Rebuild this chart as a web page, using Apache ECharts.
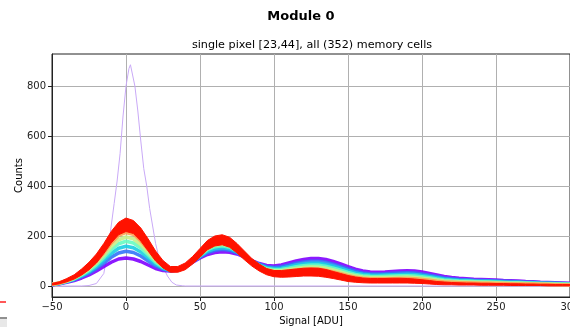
<!DOCTYPE html>
<html><head><meta charset="utf-8">
<script src="https://cdn.jsdelivr.net/npm/echarts@6/dist/echarts.min.js"></script>
<style>html,body{margin:0;padding:0;background:#fff}#c{width:570px;height:327px}</style>
</head><body><div id="c"></div>
<script>
// Signal bins [ADU]
const signalBins = [-50,-45,-40,-35,-30,-25,-20,-15,-10,-5,0,5,10,15,20,25,30,35,40,45,50,55,60,65,70,75,80,85,90,95,100,105,110,115,120,125,130,135,140,145,150,155,160,165,170,175,180,185,190,195,200,205,210,215,220,225,230,235,240,245,250,255,260,265,270,275,280,285,290,295,300];
// representative memory-cell groups (rainbow colormap order)
const cellsPurple = [5,9,15,22,32,44,60,78,95,108,112,108,98,84,70,62,60,64,76,95,112,126,134,137,135,128,116,102,90,82,80,84,92,100,106,110,110,106,98,88,77,67,60,56,55,56,58,60,61,60,56,50,44,38,34,31,29,27,26,25,24,22,21,20,18,17,15,14,13,12,11];
const cellsBlue = [5,10,17,25,37,51,70,92,115,132,139,134,120,100,80,67,61,64,76,97,116,133,143,147,143,133,117,101,87,77,74,77,84,91,96,99,99,95,87,78,68,59,52,49,48,49,51,52,53,52,48,43,38,32,29,26,25,23,22,21,20,19,18,17,15,15,13,12,11,10,9];
const cellsCyan = [6,10,18,27,40,57,78,103,130,151,159,153,136,112,88,71,62,65,77,98,119,139,150,154,149,136,118,100,84,73,70,71,77,84,88,91,91,86,79,70,61,52,47,44,43,44,45,46,47,46,42,38,33,28,25,23,22,20,19,19,18,16,15,15,13,13,11,11,10,9,8];
const cellsGreen = [6,11,19,29,44,62,85,114,145,169,179,172,152,124,95,75,63,65,77,99,122,145,157,161,155,140,119,99,82,70,65,66,71,77,81,83,83,78,71,63,54,46,41,39,38,39,40,41,41,40,37,33,28,24,22,20,19,18,17,16,15,14,13,13,12,11,10,9,8,8,7];
const cellsYellow = [6,12,20,31,47,67,92,123,158,185,196,189,166,134,102,78,64,65,77,100,125,149,163,167,160,142,120,98,80,66,61,61,66,70,74,76,75,71,64,56,47,41,36,34,34,34,35,35,36,34,31,28,24,20,18,17,16,15,14,14,13,12,11,11,10,9,8,8,7,6,6];
const cellsOrange = [7,12,21,33,50,72,99,133,172,202,214,207,181,146,109,81,65,66,78,101,127,154,169,174,166,146,121,97,78,63,57,56,60,64,67,68,68,63,56,49,41,35,31,29,29,29,29,30,30,29,26,23,19,16,15,13,13,12,11,11,10,10,9,8,8,8,7,6,5,5,4];
const cellsRedLow = [4,9,17,28,44,65,92,130,172,205,218,210,180,140,100,72,55,55,65,88,115,145,160,165,155,132,105,80,60,45,37,35,36,38,40,40,39,35,30,24,18,15,13,12,12,12,12,12,12,11,10,8,6,5,5,4,4,4,3,3,3,3,2,2,2,2,2,1,1,1,1];
const cellsRedHigh = [10,17,30,45,68,95,128,170,218,255,272,262,232,188,140,102,78,78,92,118,150,182,200,205,195,170,140,110,88,70,62,62,65,68,71,72,71,66,58,50,42,36,32,30,30,30,31,31,30,28,25,22,18,16,14,13,12,12,11,11,10,10,9,9,8,8,7,7,6,6,6];
// the one outlier cell with a narrow noise peak
const spikeBins = [-50,-40,-30,-25,-20,-15,-12,-10,-8,-6,-4,-2,0,2,3,4,6,8,10,12,14,16,18,20,22,25,28,31,34,38,40,100,200,300];
const spikeCounts = [0,0,0,2,10,50,150,240,330,420,530,680,800,870,885,880,800,700,580,470,400,310,240,170,120,77,40,15,4,1,0,0,0,0];
const yTicks = [0,200,400,600,800];

const pair = (xs, ys) => xs.map((x, i) => [x, ys[i]]);
const groups = [
  ['purple', cellsPurple, '#8000ff'],
  ['blue', cellsBlue, '#3374f8'],
  ['cyan', cellsCyan, '#1acee3'],
  ['green', cellsGreen, '#66fcc2'],
  ['yellow', cellsYellow, '#c8ee8a'],
  ['orange', cellsOrange, '#ffa050']
];
const series = [{
  type: 'line', name: 'spike', data: pair(spikeBins, spikeCounts), symbol: 'none',
  lineStyle: {color: '#c9a9f7', width: 1}, z: 1
}];
groups.forEach(([n, arr, col]) => series.push({
  type: 'line', name: n, data: pair(signalBins, arr), symbol: 'none',
  lineStyle: {color: col, width: 3.5, opacity: 0.9}, z: 2
}));
// red band (many late memory cells) drawn as a polygon between low and high envelopes
series.push({
  type: 'custom', name: 'red', z: 3, clip: true,
  data: signalBins.map((x, i) => [x, cellsRedLow[i], cellsRedHigh[i]]),
  encode: {x: 0, y: [1, 2]},
  renderItem: (params, api) => {
    if (params.dataIndex !== 0) return null;
    const top = signalBins.map((x, i) => api.coord([x, cellsRedHigh[i]]));
    const bot = signalBins.map((x, i) => api.coord([x, cellsRedLow[i]])).reverse();
    return {
      type: 'polygon',
      shape: {points: top.concat(bot)},
      style: {fill: '#ff1200', stroke: '#ff1200', lineWidth: 1}
    };
  }
});

const chart = echarts.init(document.getElementById('c'), null, {renderer: 'canvas'});
const FONT = 'DejaVu Sans';
chart.setOption({
  animation: false,
  backgroundColor: '#fff',
  title: [
    {text: 'Module 0', left: 296, top: 5, textAlign: 'center',
     textStyle: {fontFamily: FONT, fontSize: 13, fontWeight: 'bold', color: '#000'}},
    {text: 'single pixel [23,44], all (352) memory cells', left: 307, top: 35, textAlign: 'center',
     textStyle: {fontFamily: FONT, fontSize: 11.2, fontWeight: 'normal', color: '#000'}}
  ],
  grid: {left: 52, right: 0, top: 54, bottom: 30, show: true, borderColor: '#222', borderWidth: 1,
         containLabel: false, outerBoundsMode: 'none'},
  xAxis: {
    type: 'value', min: -50, max: 300, interval: 50,
    name: 'Signal [ADU]', nameLocation: 'middle', nameGap: 19, nameMoveOverlap: false,
    nameTextStyle: {fontFamily: FONT, fontSize: 10, color: '#000'},
    axisLine: {show: true, onZero: false, lineStyle: {color: '#222'}},
    axisTick: {show: true, length: 4, lineStyle: {color: '#222'}},
    axisLabel: {fontFamily: FONT, fontSize: 10, color: '#222', margin: 5, hideOverlap: false,
                formatter: v => String(v).replace('-', '\u2212')},
    splitLine: {show: true, lineStyle: {color: '#b0b0b0', width: 1}}
  },
  yAxis: {
    type: 'value', min: -44, max: 928,
    name: 'Counts', nameLocation: 'middle', nameGap: 28, nameRotate: 90, nameMoveOverlap: false,
    nameTextStyle: {fontFamily: FONT, fontSize: 10, color: '#000'},
    axisLine: {show: true, onZero: false, lineStyle: {color: '#222'}},
    axisTick: {show: true, length: 4, customValues: yTicks, lineStyle: {color: '#222'}},
    axisLabel: {fontFamily: FONT, fontSize: 10, color: '#222', margin: 6, customValues: yTicks},
    splitLine: {show: true, lineStyle: {color: '#b0b0b0', width: 1}}
  },
  graphic: [
    {type: 'line', shape: {x1: 0, y1: 302, x2: 6, y2: 302}, style: {stroke: '#ff2020', lineWidth: 1.5}},
    {type: 'line', shape: {x1: 0, y1: 318, x2: 7, y2: 318}, style: {stroke: '#222', lineWidth: 1}},
    {type: 'rect', shape: {x: 0, y: 319, width: 7, height: 8}, style: {fill: '#e8e8e8'}}
  ],
  series: series
});
</script></body></html>
